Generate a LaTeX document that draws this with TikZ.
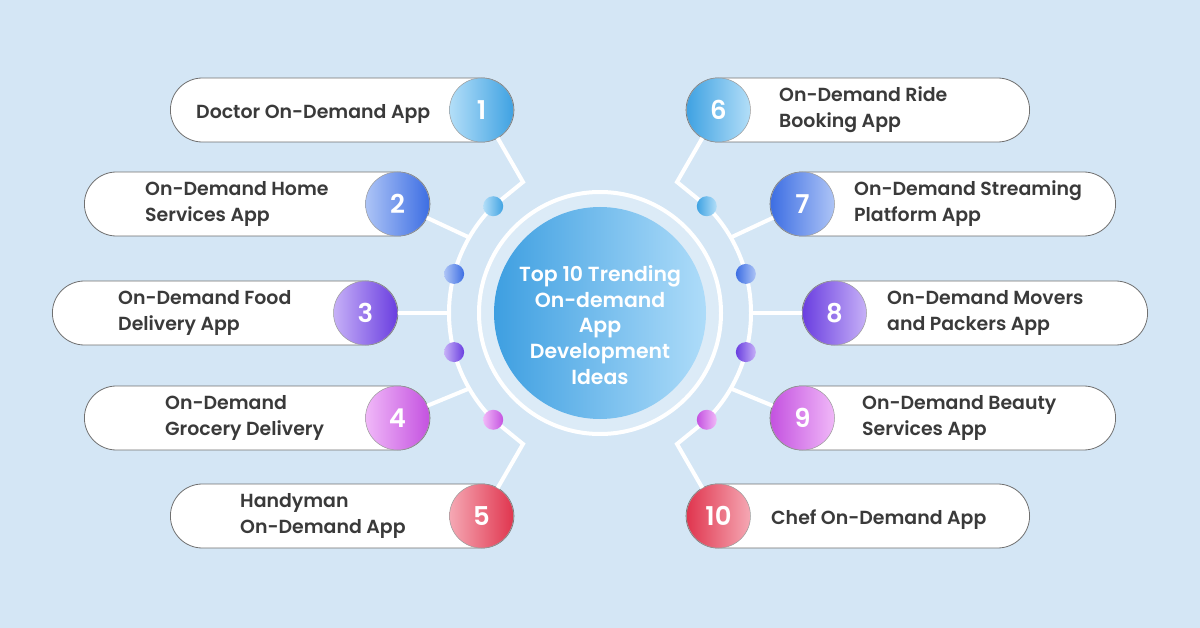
\documentclass[tikz,border=0pt]{standalone}
\usepackage{fontspec}
\setmainfont{Poppins}[BoldFont={Poppins SemiBold}]
\usetikzlibrary{calc}
\definecolor{bg}{HTML}{D4E6F5}
\definecolor{ringin}{HTML}{DCEBF7}
\definecolor{pillgray}{HTML}{707070}
\definecolor{txtgray}{HTML}{3A3A3A}
\definecolor{la}{HTML}{B3DEF8}\definecolor{da}{HTML}{3FA2E2}
\definecolor{lb}{HTML}{ADC4F6}\definecolor{db}{HTML}{3D6EE3}
\definecolor{lc}{HTML}{C6B0F7}\definecolor{dc}{HTML}{6A3EE0}
\definecolor{ld}{HTML}{F0B8F8}\definecolor{dd}{HTML}{C452E0}
\definecolor{le}{HTML}{F5A8B4}\definecolor{de}{HTML}{E0354E}
\definecolor{cl}{HTML}{3E9FE1}\definecolor{cr}{HTML}{AEDCF9}
\begin{document}
\begin{tikzpicture}[x=1bp,y=-1bp,
  pill/.style={draw=pillgray, line width=0.8bp, fill=white, rounded corners=32bp,
    minimum height=64bp, inner sep=0pt},
  numc/.style={circle, minimum size=64bp, inner sep=0pt, draw=pillgray!70, line width=0.5bp,
    text=white, font=\bfseries\fontsize{26}{26}\selectfont},
  dotc/.style={circle, minimum size=20bp, inner sep=0pt},
  conn/.style={draw=white, line width=4bp},
  lbl/.style={anchor=west, align=left, text=txtgray, inner sep=0pt,
    font=\bfseries\fontsize{19}{26}\selectfont},
  ctext/.style={align=center, text=white, font=\bfseries\fontsize{20.5}{26}\selectfont}]
\useasboundingbox (0,0) rectangle (1200,628);
\fill[bg] (0,0) rectangle (1200,628);
\coordinate (O) at (600,313);
% arc points
\coordinate (a2) at ($(O)+(210:151)$);
\coordinate (a3) at ($(O)+(180:151)$);
\coordinate (a4) at ($(O)+(150:151)$);
\coordinate (a7) at ($(O)+(330:151)$);
\coordinate (a8) at ($(O)+(0:151)$);
\coordinate (a9) at ($(O)+(30:151)$);
\coordinate (c1) at (523,182);
\coordinate (c5) at (523,444);
\coordinate (c6) at (677,182);
\coordinate (c10) at (677,444);
% pills
\node[pill, minimum width=343.5bp, anchor=west] (p1) at (170,110) {};
\node[pill, minimum width=345.5bp, anchor=west] (p2) at (84,204) {};
\node[pill, minimum width=345.5bp, anchor=west] (p3) at (52,313) {};
\node[pill, minimum width=345.5bp, anchor=west] (p4) at (84,418) {};
\node[pill, minimum width=343.5bp, anchor=west] (p5) at (170,516) {};
\node[pill, minimum width=343.5bp, anchor=east] (p6) at (1030,110) {};
\node[pill, minimum width=345.5bp, anchor=east] (p7) at (1116,204) {};
\node[pill, minimum width=345.5bp, anchor=east] (p8) at (1148,313) {};
\node[pill, minimum width=345.5bp, anchor=east] (p9) at (1116,418) {};
\node[pill, minimum width=343.5bp, anchor=east] (p10) at (1030,516) {};
% number circle positions
\coordinate (q1) at (481.5,110);
\coordinate (q2) at (397.5,204);
\coordinate (q3) at (365.5,313);
\coordinate (q4) at (397.5,418);
\coordinate (q5) at (481.5,516);
\coordinate (q6) at (718.5,110);
\coordinate (q7) at (802.5,204);
\coordinate (q8) at (834.5,313);
\coordinate (q9) at (802.5,418);
\coordinate (q10) at (718.5,516);
% dot positions
\coordinate (e1) at ($(O)+(225:151)$);
\coordinate (e2) at ($(O)+(195:151)$);
\coordinate (e3) at ($(O)+(165:151)$);
\coordinate (e4) at ($(O)+(135:151)$);
\coordinate (e6) at ($(O)+(315:151)$);
\coordinate (e7) at ($(O)+(345:151)$);
\coordinate (e8) at ($(O)+(15:151)$);
\coordinate (e9) at ($(O)+(45:151)$);
% connectors
\draw[conn] (q1) -- (c1) -- (e1);
\draw[conn] (q2) -- (a2);
\draw[conn] (q3) -- (a3);
\draw[conn] (q4) -- (a4);
\draw[conn] (q5) -- (c5) -- (e4);
\draw[conn] (q6) -- (c6) -- (e6);
\draw[conn] (q7) -- (a7);
\draw[conn] (q8) -- (a8);
\draw[conn] (q9) -- (a9);
\draw[conn] (q10) -- (c10) -- (e9);
% outer arcs
\draw[conn] (e1) arc[start angle=225, end angle=135, radius=151];
\draw[conn] (e6) arc[start angle=-45, end angle=45, radius=151];
% center
\fill[ringin] (O) circle[radius=121];
\draw[white, line width=4bp] (O) circle[radius=121];
\node[circle, minimum size=212bp, inner sep=0pt, left color=cl, right color=cr] (ctr) at (O) {};
\node[ctext] (ct) at (600,325) {Top 10 Trending\\On-demand\\App\\Development\\Ideas};
% number circles
\node[numc, left color=la, right color=da] (n1) at (q1) {1};
\node[numc, left color=lb, right color=db] (n2) at (q2) {2};
\node[numc, left color=lc, right color=dc] (n3) at (q3) {3};
\node[numc, left color=ld, right color=dd] (n4) at (q4) {4};
\node[numc, left color=le, right color=de] (n5) at (q5) {5};
\node[numc, left color=da, right color=la] (n6) at (q6) {6};
\node[numc, left color=db, right color=lb] (n7) at (q7) {7};
\node[numc, left color=dc, right color=lc] (n8) at (q8) {8};
\node[numc, left color=dd, right color=ld] (n9) at (q9) {9};
\node[numc, left color=de, right color=le] (n10) at (q10) {10};
% dots
\node[dotc, left color=la, right color=da] (d1) at (e1) {};
\node[dotc, left color=lb, right color=db] (d2) at (e2) {};
\node[dotc, left color=lc, right color=dc] (d3) at (e3) {};
\node[dotc, left color=ld, right color=dd] (d4) at (e4) {};
\node[dotc, left color=da, right color=la] (d6) at (e6) {};
\node[dotc, left color=db, right color=lb] (d7) at (e7) {};
\node[dotc, left color=dc, right color=lc] (d8) at (e8) {};
\node[dotc, left color=dd, right color=ld] (d9) at (e9) {};
% labels
\node[lbl] (t1) at (196,113.5) {Doctor On-Demand App};
\node[lbl] (t2) at (145,204) {On-Demand Home\\Services App};
\node[lbl] (t3) at (118,313) {On-Demand Food\\Delivery App};
\node[lbl] (t4) at (165,418) {On-Demand\\Grocery Delivery};
\node[lbl] (t5) at (240,516) {Handyman\\On-Demand App};
\node[lbl] (t6) at (779,110) {On-Demand Ride\\Booking App};
\node[lbl] (t7) at (854,204) {On-Demand Streaming\\Platform App};
\node[lbl] (t8) at (887,313) {On-Demand Movers\\and Packers App};
\node[lbl] (t9) at (862,418) {On-Demand Beauty\\Services App};
\node[lbl] (t10) at (771,519.5) {Chef On-Demand App};
\end{tikzpicture}
\end{document}
